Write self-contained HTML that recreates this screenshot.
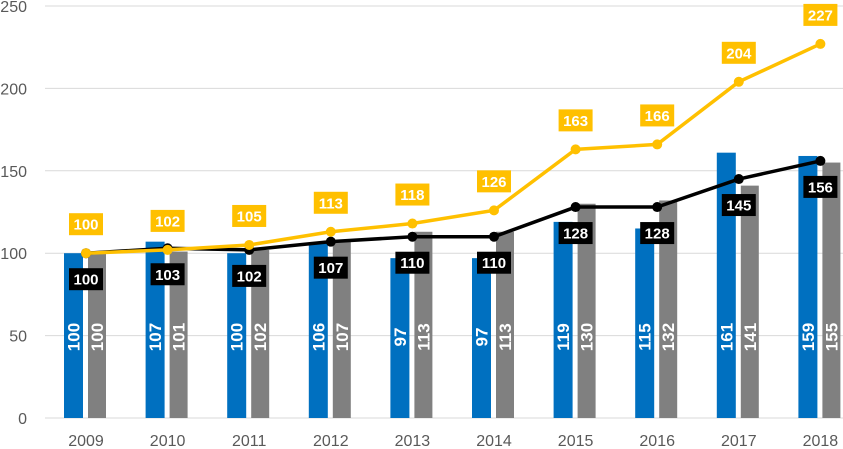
<!DOCTYPE html>
<html><head><meta charset="utf-8"><style>
body{margin:0;background:#fff;}
svg{display:block;font-family:"Liberation Sans",sans-serif;}
</style></head><body>
<svg id="chart" width="843" height="449"></svg>
<script>
const years=["2009","2010","2011","2012","2013","2014","2015","2016","2017","2018"];
const blueVals=[100,107,100,106,97,97,119,115,161,159];
const grayVals=[100,101,102,107,113,113,130,132,141,155];
const yellowVals=[100,102,105,113,118,126,163,166,204,227];
const blackVals=[100,103,102,107,110,110,128,128,145,156];
const yTicks=[0,50,100,150,200,250];
const NS="http://www.w3.org/2000/svg";
const svg=document.getElementById('chart');
function y(v){return 418-v*1.648;}
function x(i){return 86+i*81.6;}
function el(t,a,p){const e=document.createElementNS(NS,t);for(const k in a)e.setAttribute(k,a[k]);(p||svg).appendChild(e);return e;}
yTicks.forEach(t=>{
  const g=el('line',{x1:45,x2:843,y1:y(t),y2:y(t),stroke:'#d9d9d9','stroke-width':1});
  
  
  const l=el('text',{x:27,y:y(t)+6,'text-anchor':'end','font-size':16,fill:'#595959'});l.textContent=t;
  
  
});
years.forEach((yr,i)=>{
  const l=el('text',{x:x(i),y:446,'text-anchor':'middle','font-size':16,fill:'#595959'});l.textContent=yr;
  
  
  const b=el('rect',{x:x(i)-22,y:y(blueVals[i]),width:19,height:418-y(blueVals[i]),fill:'#0070c0'});
  
  
  const g=el('rect',{x:x(i)+2,y:y(grayVals[i]),width:18,height:418-y(grayVals[i]),fill:'#808080'});
  
  
  [[x(i)-12.5,blueVals[i]],[x(i)+11,grayVals[i]]].forEach(([cx,v],k)=>{
    const t=el('text',{x:0,y:0,'text-anchor':'middle','font-size':17,'font-weight':'bold',fill:'#fff',transform:`translate(${cx+6},337) rotate(-90)`});t.textContent=v;
    
    
  });
});
function line(vals,color,name){
  const p=el('polyline',{points:vals.map((v,i)=>x(i)+','+y(v)).join(' '),fill:'none',stroke:color,'stroke-width':3.5});
  
  
  vals.forEach((v,i)=>{
    const c=el('circle',{cx:x(i),cy:y(v),r:5,fill:color});
    
    
  });
}
line(blackVals,'#000','black');
line(yellowVals,'#ffc000','yellow');
function labels(vals,bg,dy,name){
  vals.forEach((v,i)=>{
    const cy=y(v)+dy;
    const r=el('rect',{x:x(i)-17,y:cy-11,width:34,height:22,fill:bg});
    
    
    const t=el('text',{x:x(i),y:cy+5.5,'text-anchor':'middle','font-size':15,'font-weight':'bold',fill:'#fff'});t.textContent=v;
    
    
  });
}
labels(yellowVals,'#ffc000',-29,'yellow');
labels(blackVals,'#000',26,'black');
</script>
</body></html>
